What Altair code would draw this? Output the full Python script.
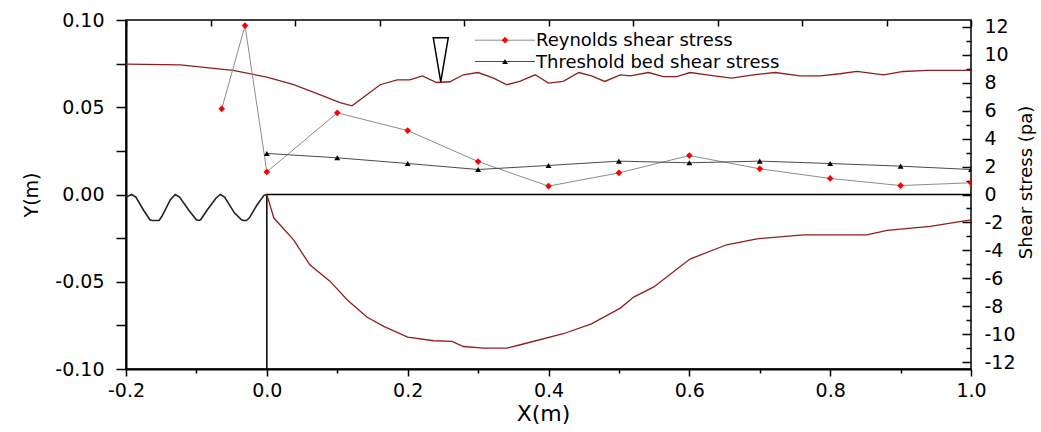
import altair as alt
import pandas as pd

# ---------------- data ----------------
ripple_x = [-0.200, -0.192, -0.186, -0.175, -0.166, -0.163, -0.153, -0.149, -0.137, -0.130,
            -0.124, -0.110, -0.100, -0.097, -0.094, -0.085, -0.072, -0.066, -0.060, -0.046,
            -0.036, -0.033, -0.029, -0.025, -0.014, -0.004, 0.000]
ripple_y = [-0.0015, 0.0, -0.0015, -0.009, -0.0145, -0.0149, -0.0149, -0.0125, -0.003, 0.0,
            -0.0015, -0.0095, -0.0145, -0.0149, -0.0145, -0.009, -0.002, 0.0, -0.0015, -0.0105,
            -0.0145, -0.0149, -0.0149, -0.0135, -0.006, -0.0005, 0.0]

bed_x = [0.0, 0.0, 1.0]
bed_y = [-0.1, 0.0, 0.0]

surf_x = [-0.200, -0.123, -0.048, 0.000, 0.038, 0.076, 0.104, 0.121, 0.161, 0.185, 0.203, 0.221,
          0.241, 0.260, 0.279, 0.300, 0.322, 0.341, 0.360, 0.381, 0.400, 0.421, 0.443, 0.461,
          0.480, 0.502, 0.516, 0.542, 0.563, 0.582, 0.601, 0.625, 0.660, 0.691, 0.722, 0.757,
          0.786, 0.814, 0.838, 0.876, 0.904, 0.937, 1.000]
surf_y = [0.0747, 0.0743, 0.0711, 0.0673, 0.0629, 0.0571, 0.0527, 0.0508, 0.0629, 0.0657, 0.0657, 0.0680,
          0.0642, 0.0646, 0.0686, 0.0699, 0.0667, 0.0629, 0.0650, 0.0686, 0.0638, 0.0648, 0.0699, 0.0680,
          0.0648, 0.0686, 0.0680, 0.0699, 0.0676, 0.0676, 0.0699, 0.0686, 0.0667, 0.0686, 0.0699, 0.0680,
          0.0680, 0.0692, 0.0705, 0.0686, 0.0705, 0.0711, 0.0711]

scour_x = [0.000, 0.010, 0.038, 0.061, 0.090, 0.114, 0.142, 0.166, 0.200, 0.237, 0.263, 0.279,
           0.308, 0.341, 0.360, 0.421, 0.461, 0.502, 0.521, 0.549, 0.601, 0.653, 0.696, 0.762,
           0.852, 0.881, 0.942, 1.000]
scour_y = [0.000, -0.0135, -0.026, -0.0403, -0.0498, -0.0603, -0.0702, -0.0756, -0.0817, -0.0838, -0.0842, -0.0871,
           -0.0880, -0.0880, -0.0861, -0.0798, -0.0741, -0.0651, -0.0588, -0.0531, -0.0370, -0.0288, -0.0254, -0.0231,
           -0.0231, -0.0206, -0.0183, -0.0145]

reynolds_x = [-0.064, -0.031, 0.0, 0.1, 0.2, 0.3, 0.4, 0.5, 0.6, 0.7, 0.8, 0.9, 1.0]
reynolds_s = [6.14, 12.1, 1.62, 5.85, 4.58, 2.36, 0.60, 1.55, 2.79, 1.84, 1.15, 0.64, 0.84]

threshold_x = [0.0, 0.1, 0.2, 0.3, 0.4, 0.5, 0.6, 0.7, 0.8, 0.9, 1.0]
threshold_s = [2.94, 2.63, 2.22, 1.79, 2.08, 2.39, 2.27, 2.39, 2.22, 2.03, 1.79]

marker_x = [0.247]
marker_y = [0.0646]

legend_labels = ["Reynolds shear stress", "Threshold bed shear stress"]

# ---------------- style ----------------
FONT = "DejaVu Sans"
RED = "#8f1f1f"
XDOM = [-0.2, 1.0]
YDOM = [-0.1, 0.1]
SDOM = [-12.5, 12.5]

xs = alt.Scale(domain=XDOM, nice=False, zero=False)
ys = alt.Scale(domain=YDOM, nice=False, zero=False)
ss = alt.Scale(domain=SDOM, nice=False, zero=False)

def df_xy(xv, yv, yname="y"):
    return pd.DataFrame({"x": xv, yname: yv, "o": list(range(len(xv)))})

# axes
x_major = alt.Axis(orient="bottom", values=[-0.2, 0.0, 0.2, 0.4, 0.6, 0.8, 1.0],
                   labelExpr="(datum.value < -0.0001 ? '-' : '') + format(abs(datum.value), '.1f')",
                   tickSize=7, tickWidth=1.5, tickColor="black",
                   domain=True, domainWidth=2, domainColor="black",
                   labelFont=FONT, labelFontSize=19, labelColor="black", labelPadding=5,
                   labelFlush=False,
                   title="X(m)", titleFont=FONT, titleFontSize=22, titleFontWeight="normal",
                   titleColor="black", titleX=417, titleY=44, titleBaseline="middle", grid=False)
x_minor = alt.Axis(orient="bottom", values=[-0.1, 0.1, 0.3, 0.5, 0.7, 0.9], labels=False,
                   tickSize=4, tickWidth=1.5, tickColor="black", domain=False, title=None, grid=False)
x_top = alt.Axis(orient="top", values=[round(-0.2 + 0.12 * k, 2) for k in range(11)], labels=False,
                 tickSize=alt.ExprRef(expr="-6"), tickWidth=1.5, tickColor="black",
                 domain=False, title=None, grid=False)

y_left = alt.Axis(orient="left", values=[round(-0.1 + 0.025 * k, 3) for k in range(9)],
                  labelExpr="abs(round(datum.value*40)) % 2 == 0 ? (datum.value < -0.0001 ? '-' : '') + format(abs(datum.value), '.2f') : ''",
                  tickSize=10, tickWidth=1.5, tickColor="black",
                  domain=True, domainWidth=2, domainColor="black",
                  labelFont=FONT, labelFontSize=19, labelColor="black", labelPadding=12,
                  labelFlush=False, labelBaseline="middle",
                  title="Y(m)", titleFont=FONT, titleFontSize=19, titleFontWeight="normal",
                  titleColor="black", titleAngle=270, titleX=-95, titleY=174.5,
                  titleBaseline="middle", titleAlign="center", grid=False)

s_labels = alt.Axis(orient="right", values=list(range(-12, 13, 2)), ticks=False, domain=False,
                    labelExpr="(datum.value < 0 ? '-' : '') + format(abs(datum.value), 'd')",
                    labelFont=FONT, labelFontSize=19, labelColor="black", labelPadding=13,
                    labelAlign="left", labelFlush=False, labelBaseline="middle",
                    title="Shear stress (pa)", titleFont=FONT, titleFontSize=18,
                    titleFontWeight="normal", titleColor="black", titleAngle=270,
                    titleX=55, titleY=162, titleBaseline="middle", titleAlign="center", grid=False)
s_major = alt.Axis(orient="right", values=list(range(-12, 13, 2)), labels=False, domain=False,
                   tickSize=alt.ExprRef(expr="-9"), tickWidth=1.5, tickColor="black",
                   title=None, grid=False)
s_minor = alt.Axis(orient="right", values=list(range(-11, 12, 2)), labels=False, domain=False,
                   tickSize=alt.ExprRef(expr="-5"), tickWidth=1.5, tickColor="black",
                   title=None, grid=False)

def X(axis):
    return alt.X("x:Q", scale=xs, axis=axis)

# ---------------- layers ----------------
ripple = alt.Chart(df_xy(ripple_x, ripple_y)).mark_line(color="#222222", strokeWidth=1.6).encode(
    x=X(x_major), y=alt.Y("y:Q", scale=ys, axis=y_left), order="o:Q")

bed = alt.Chart(df_xy(bed_x, bed_y)).mark_line(color="black", strokeWidth=1.5).encode(
    x=X(None), y=alt.Y("y:Q", scale=ys, axis=None), order="o:Q")

surface = alt.Chart(df_xy(surf_x, surf_y)).mark_line(color=RED, strokeWidth=1.3).encode(
    x=X(x_minor), y=alt.Y("y:Q", scale=ys, axis=None), order="o:Q")

scour = alt.Chart(df_xy(scour_x, scour_y)).mark_line(color=RED, strokeWidth=1.3).encode(
    x=X(x_top), y=alt.Y("y:Q", scale=ys, axis=None), order="o:Q")

tri = alt.Chart(df_xy(marker_x, marker_y)).mark_point(
    shape="M -0.34 -2 L 0.34 -2 L 0 0 Z", size=1936, filled=False, stroke="black",
    strokeWidth=1.5, opacity=1).encode(
    x=X(None), y=alt.Y("y:Q", scale=ys, axis=None))

rey_df = df_xy(reynolds_x, reynolds_s, "s")
thr_df = df_xy(threshold_x, threshold_s, "s")

rey_line = alt.Chart(rey_df).mark_line(color="#8c8c8c", strokeWidth=1).encode(
    x=X(None), y=alt.Y("s:Q", scale=ss, axis=s_labels), order="o:Q")
thr_line = alt.Chart(thr_df).mark_line(color="#4a4a4a", strokeWidth=1).encode(
    x=X(None), y=alt.Y("s:Q", scale=ss, axis=s_minor), order="o:Q")
rey_pts = alt.Chart(rey_df).mark_point(shape="diamond", filled=True, color="#ff0000",
                                      size=45, opacity=1, clip=True).encode(
    x=X(None), y=alt.Y("s:Q", scale=ss, axis=s_major))
thr_pts = alt.Chart(thr_df).mark_point(shape="triangle-up", filled=True, color="black",
                                      size=35, opacity=1, clip=True).encode(
    x=X(None), y=alt.Y("s:Q", scale=ss, axis=None))

# legend (drawn in pixel space)
leg_layers = []
leg_rows = [(20.2, "#8c8c8c", "diamond", "#ff0000", 45), (41.5, "#4a4a4a", "triangle-up", "black", 35)]
for label, (ly, lc, shp, mc, msz) in zip(legend_labels, leg_rows):
    d = pd.DataFrame({"label": [label]})
    leg_layers.append(alt.Chart(d).mark_rule(color=lc, strokeWidth=1).encode(
        x=alt.value(349), x2=alt.value(409), y=alt.value(ly)))
    leg_layers.append(alt.Chart(d).mark_point(shape=shp, filled=True, color=mc, size=msz, opacity=1).encode(
        x=alt.value(379), y=alt.value(ly)))
    leg_layers.append(alt.Chart(d).mark_text(align="left", baseline="middle", font=FONT,
                                             fontSize=18, color="black").encode(
        x=alt.value(410), y=alt.value(ly + 1), text="label:N"))

chart = alt.layer(bed, ripple, surface, scour, tri, rey_line, thr_line, rey_pts, thr_pts,
                  *leg_layers).resolve_scale(y="independent").resolve_axis(x="independent").properties(
    width=845, height=349,
    autosize=alt.AutoSizeParams(type="none"),
    padding={"left": 126, "top": 20, "right": 70, "bottom": 63},
).configure_view(stroke="black", strokeWidth=1.5).configure_axis(grid=False)

chart.save("out.html", embed_options={"renderer": "svg", "actions": False})
